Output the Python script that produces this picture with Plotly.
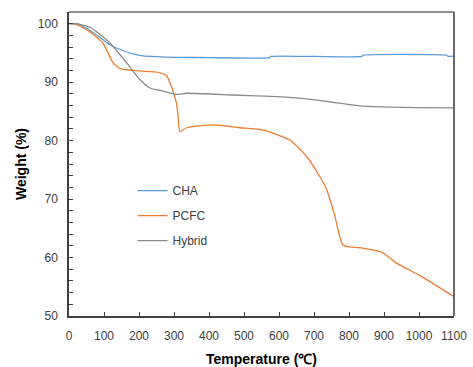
import plotly.graph_objects as go

cha_t = [0, 30, 69, 117, 150, 183, 211, 250, 300, 400, 574, 576, 700, 837, 839, 1080, 1082, 1100]
cha_w = [100, 99.9, 98.5, 96.4, 95.5, 94.85, 94.5, 94.35, 94.25, 94.2, 94.2, 94.4, 94.4, 94.4, 94.6, 94.6, 94.45, 94.45]

pcfc_t = [0, 20, 60, 97, 126, 146, 183, 230, 260, 279, 293, 307, 312, 317, 336, 412, 460, 489, 555, 631, 680, 710, 737, 760, 783, 840, 894, 937, 1003, 1100]
pcfc_w = [100, 99.9, 98.6, 96.7, 93.3, 92.3, 92.0, 91.8, 91.6, 91.1, 89.2, 86.4, 84.0, 81.5, 82.2, 82.7, 82.4, 82.2, 81.8, 80.1, 77.2, 74.5, 71.5, 67.0, 62.1, 61.6, 60.9, 59.0, 56.9, 53.3]

hyb_t = [0, 20, 60, 117, 165, 203, 231, 260, 307, 336, 469, 560, 651, 750, 840, 1089, 1100]
hyb_w = [100, 100, 99.4, 96.7, 93.3, 90.4, 89.0, 88.6, 87.9, 88.1, 87.8, 87.6, 87.3, 86.6, 85.9, 85.6, 85.6]

x_ticks = [0, 100, 200, 300, 400, 500, 600, 700, 800, 900, 1000, 1100]
y_ticks = [50, 60, 70, 80, 90, 100]

font = "Liberation Sans"
fig = go.Figure()
for name, t, w, c in [("CHA", cha_t, cha_w, "#5B9BD5"),
                      ("PCFC", pcfc_t, pcfc_w, "#ED7D31"),
                      ("Hybrid", hyb_t, hyb_w, "#8a8a8a")]:
    fig.add_trace(go.Scatter(x=t, y=w, mode="lines", name=name, legendgroup=name,
                             line=dict(color=c, width=1.3, shape="spline", smoothing=0.5)))

fig.update_layout(
    width=473, height=367,
    margin=dict(l=69, r=19, t=12, b=51),
    paper_bgcolor="white", plot_bgcolor="white",
    font=dict(family=font, size=12, color="#404040"),
    showlegend=True,
    legend=dict(x=0.165, y=0.46, xanchor="left", yanchor="top",
                bgcolor="rgba(0,0,0,0)", tracegroupgap=6,
                font=dict(size=12, color="#404040"), itemwidth=30),
    xaxis=dict(range=[0, 1100], tickvals=x_ticks, ticks="inside", ticklen=4,
               tickcolor="#404040", showgrid=False, zeroline=False, automargin=False,
               showline=True, linecolor="#404040", linewidth=1.5, mirror=False,
               ticklabelstandoff=8,
               title=dict(text="<b>Temperature (℃)</b>", font=dict(size=14, color="#000000"), standoff=12)),
    yaxis=dict(range=[50, 102], tickvals=y_ticks, ticks="inside", ticklen=4,
               tickcolor="#404040", showgrid=False, zeroline=False, automargin=False,
               showline=True, linecolor="#404040", linewidth=1.5, mirror=False,
               ticklabelstandoff=7,
               minor=dict(dtick=2, ticks="inside", ticklen=4, tickcolor="#404040"),
               title=dict(text="<b>Weight (%)</b>", font=dict(size=14, color="#000000"), standoff=8)),
)
fig.add_shape(type="line", xref="paper", yref="paper", x0=0, x1=1, y0=1, y1=1,
              line=dict(color="#6b6b6b", width=1.5))
fig.add_shape(type="line", xref="paper", yref="paper", x0=1, x1=1, y0=0, y1=1,
              line=dict(color="#6b6b6b", width=2))
fig.write_html("out.html", config={"displayModeBar": False},
               post_script="document.body.style.margin='0';document.body.style.overflow='hidden';")
